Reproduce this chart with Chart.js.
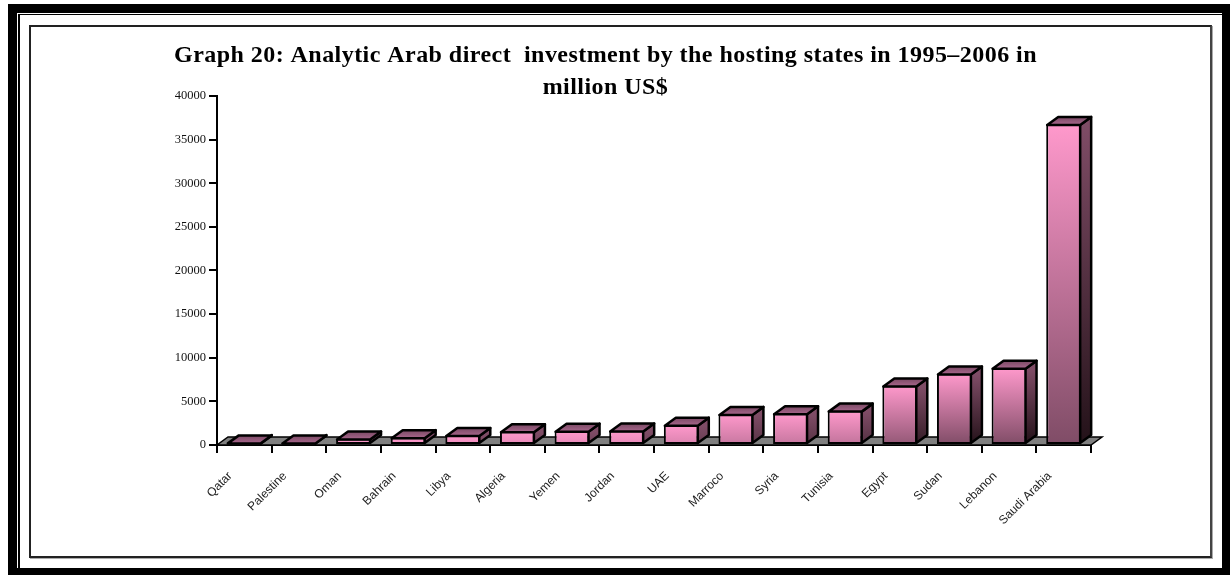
<!DOCTYPE html>
<html>
<head>
<meta charset="utf-8">
<title>Analytic Arab direct investment</title>
<script src="https://cdn.jsdelivr.net/npm/chart.js@4"></script>
<style>
  html, body { margin: 0; padding: 0; background: #fff; width: 1230px; height: 575px; overflow: hidden; }
  .frame { position: absolute; box-sizing: border-box; }
  #outer { left: 8px; top: 4px; width: 1222px; height: 571px; background: #000; }
  #rule { left: 17px; top: 13px; width: 1205px; height: 555px; background: #fff; }
  #rule::before { content: ''; position: absolute; left: 1px; top: 1px; right: 0; bottom: 0; border-left: 2px solid #000; border-top: 1px solid #000; }
  #panel { left: 29px; top: 25px; width: 1183px; height: 533px; background: #fff; border: 2px solid #222; border-right-color: #444; box-shadow: 1px 1px 0 #aaa; }
  canvas { position: absolute; left: 0; top: 0; }
</style>
</head>
<body>
<div class="frame" id="outer"></div>
<div class="frame" id="rule"></div>
<div class="frame" id="panel"></div>
<canvas id="chart" width="1210" height="575"></canvas>
<script>
// Cumulative Arab direct investment per host state, million US$
const countries = ['Qatar', 'Palestine', 'Oman', 'Bahrain', 'Libya', 'Algeria', 'Yemen', 'Jordan',
                   'UAE', 'Marroco', 'Syria', 'Tunisia', 'Egypt', 'Sudan', 'Lebanon', 'Saudi Arabia'];
const investment = [300, 280, 750, 900, 1150, 1570, 1640, 1650,
                    2330, 3560, 3640, 3940, 6820, 8200, 8850, 36800];
const titleLines = ['Graph 20: Analytic Arab direct  investment by the hosting states in 1995\u20132006 in', 'million US$'];

const PINK = '#ff99cc';
const MAUVE = '#7f4c66';
const DEPTH_X = 11;
const DEPTH_Y = 8;
const SHADE_SPAN = 70;
const STROKE = 2;

// Vertical shade that starts at a bar's top; short bars only reach part of the ramp
function shade(ctx, top, base, from, to) {
  const g = ctx.createLinearGradient(0, top, 0, top + Math.max(base - top, SHADE_SPAN));
  g.addColorStop(0, from);
  g.addColorStop(1, to);
  return g;
}

function face(ctx, pts, fill) {
  ctx.beginPath();
  pts.forEach((p, i) => i ? ctx.lineTo(p[0], p[1]) : ctx.moveTo(p[0], p[1]));
  ctx.closePath();
  ctx.fillStyle = fill;
  ctx.fill();
  ctx.stroke();
}

// Pseudo-3D look: grey floor behind the bars, side and top faces taken from each bar element
const extrude = {
  id: 'extrude',
  afterInit(chart) {
    // The heading font runs narrower than the wanted line, so it is tracked out a little
    const block = chart.titleBlock;
    const drawTitle = block.draw;
    block.draw = function () {
      const ctx = this.ctx;
      ctx.save();
      ctx.letterSpacing = '0.45px';
      drawTitle.call(this);
      ctx.restore();
    };
  },
  beforeDatasetsDraw(chart) {
    const { ctx, scales: { x, y } } = chart;
    const b = y.getPixelForValue(0);
    ctx.save();
    ctx.strokeStyle = '#000';
    ctx.lineWidth = 1.5;
    ctx.lineJoin = 'miter';
    face(ctx, [[x.left, b], [x.right, b], [x.right + DEPTH_X, b - DEPTH_Y], [x.left + DEPTH_X, b - DEPTH_Y]], '#808080');
    ctx.restore();
  },
  afterDatasetsDraw(chart) {
    const { ctx } = chart;
    ctx.save();
    ctx.strokeStyle = '#000';
    ctx.lineWidth = STROKE + 0.5;
    ctx.lineJoin = 'round';
    chart.getDatasetMeta(0).data.forEach(bar => {
      const { x, y, base, width } = bar.getProps(['x', 'y', 'base', 'width'], true);
      const inset = STROKE / 2;
      const l = x - width / 2 + inset, r = x + width / 2 - inset, t = y + inset, u = base - inset;
      face(ctx, [[r, t], [r + DEPTH_X, t - DEPTH_Y], [r + DEPTH_X, u - DEPTH_Y], [r, u]],
           shade(ctx, t, u, MAUVE, '#241219'));
      const top = ctx.createLinearGradient(0, t - DEPTH_Y, 0, t);
      top.addColorStop(0, '#7a4a64');
      top.addColorStop(1, '#a8668c');
      face(ctx, [[l, t], [l + DEPTH_X, t - DEPTH_Y], [r + DEPTH_X, t - DEPTH_Y], [r, t]], top);
    });
    ctx.restore();
  }
};

new Chart(document.getElementById('chart'), {
  type: 'bar',
  plugins: [extrude],
  data: {
    labels: countries,
    datasets: [{
      data: investment,
      barPercentage: 0.64,
      categoryPercentage: 1,
      borderColor: '#000',
      borderWidth: STROKE,
      borderSkipped: false,
      backgroundColor(c) {
        const y = c.chart.scales.y;
        const v = investment[c.dataIndex];
        if (!y || v === undefined) return PINK;
        const top = y.getPixelForValue(v), base = y.getPixelForValue(0);
        if (!Number.isFinite(top) || !Number.isFinite(base)) return PINK;
        return shade(c.chart.ctx, top, base, PINK, MAUVE);
      }
    }]
  },
  options: {
    responsive: false,
    animation: false,
    layout: { padding: { left: 120, right: 119, top: 0, bottom: 0 } },
    plugins: {
      legend: { display: false },
      tooltip: { enabled: false },
      title: {
        display: true,
        text: titleLines,
        color: '#000',
        align: 'center',
        font: { family: '"Liberation Serif"', size: 24, weight: 'bold', lineHeight: 1.333 },
        padding: { top: 40, bottom: -8 }
      }
    },
    scales: {
      x: {
        afterFit(s) { s.height = 130; },
        grid: { drawOnChartArea: false, color: '#000', lineWidth: 2, tickLength: 8, tickColor: '#000', tickWidth: 2 },
        border: { color: '#000', width: 2 },
        ticks: {
          autoSkip: false,
          minRotation: 45,
          maxRotation: 45,
          labelOffset: -14,
          padding: 16,
          color: '#222',
          font: { family: '"Liberation Sans"', size: 12 }
        }
      },
      y: {
        min: 0,
        max: 40000,
        afterFit(s) { s.width = 97; },
        grid: { drawOnChartArea: false, color: '#000', lineWidth: 2, tickLength: 8, tickColor: '#000', tickWidth: 2 },
        border: { color: '#000', width: 2 },
        ticks: {
          stepSize: 5000,
          padding: 3,
          color: '#111',
          callback: value => String(value),
          font: { family: '"Liberation Serif"', size: 12.5 }
        }
      }
    }
  }
});
</script>
</body>
</html>
